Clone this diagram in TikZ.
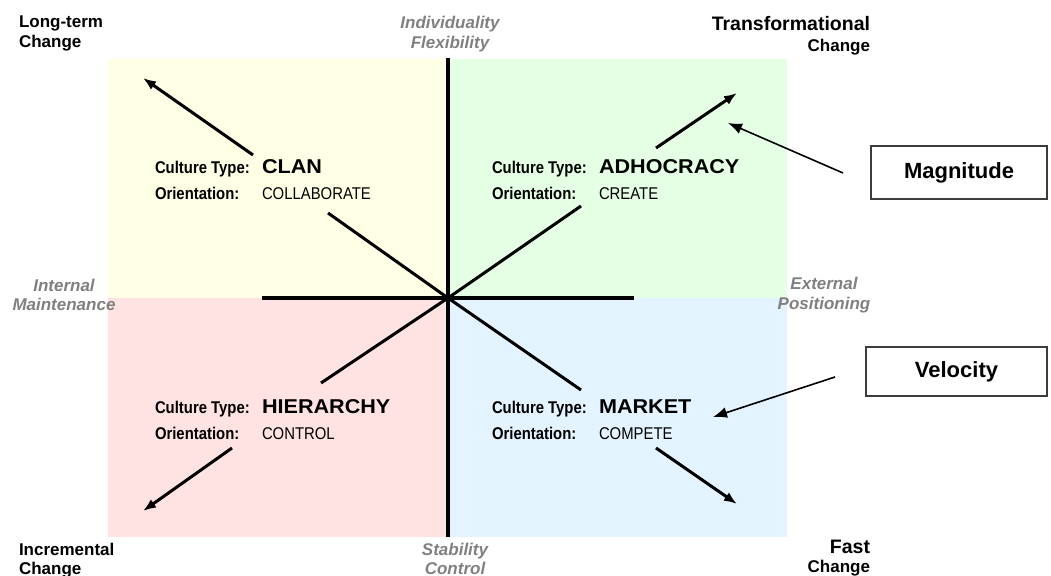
\documentclass[tikz,border=0pt]{standalone}
\usepackage{fontspec}
\setmainfont{Liberation Sans}
\newfontfamily\narrowfont[FakeStretch=0.875]{Liberation Sans}
\newfontfamily\widefont[FakeStretch=1.08]{Liberation Sans}
\usetikzlibrary{arrows.meta}
\definecolor{qyellow}{RGB}{255,255,229}
\definecolor{qgreen}{RGB}{229,255,229}
\definecolor{qpink}{RGB}{255,227,227}
\definecolor{qblue}{RGB}{227,243,255}
\definecolor{labgray}{RGB}{128,128,128}
\definecolor{boxedge}{RGB}{60,60,60}
\tikzset{
  every node/.style={inner sep=0pt, outer sep=0pt},
  cornerlab/.style={font=\fontsize{17}{20}\selectfont\bfseries, text=black},
  cornerbig/.style={font=\fontsize{19.5}{22}\selectfont\bfseries, text=black},
  axislab/.style={font=\fontsize{17}{20}\selectfont\bfseries\itshape, text=labgray, anchor=base},
  keylab/.style={font=\narrowfont\fontsize{17}{20}\selectfont\bfseries, anchor=base west},
  typelab/.style={font=\widefont\fontsize{20}{24}\selectfont\bfseries, anchor=base west},
  orientlab/.style={font=\narrowfont\fontsize{17}{20}\selectfont, anchor=base west},
  axisline/.style={line width=4.5pt},
  diagline/.style={line width=3pt},
  bigarrow/.style={line width=3pt, -{Latex[length=13pt,width=10pt]}},
  pointer/.style={line width=1.6pt, -{Latex[length=14pt,width=11pt]}},
  labelbox/.style={draw=boxedge, line width=1.8pt, font=\fontsize{22}{26}\selectfont\bfseries},
}
\begin{document}
\begin{tikzpicture}[x=1pt,y=-1pt]
\useasboundingbox (0,0) rectangle (1051,575);
% quadrant backgrounds
\fill[qyellow] (108,59) rectangle (448,298);
\fill[qgreen] (448,59) rectangle (787,298);
\fill[qpink] (108,298) rectangle (448,537);
\fill[qblue] (448,298) rectangle (787,537);

\coordinate (O) at (448,298);
\coordinate (axT) at (448,58);
\coordinate (axB) at (448,537);
\coordinate (axL) at (262,298);
\coordinate (axR) at (634,298);

% diagonal coordinates
\coordinate (clanIn) at (328,213);
\coordinate (clanA) at (253,155);
\coordinate (clanTip) at (143,78);
\coordinate (adhIn) at (581,206);
\coordinate (adhA) at (656,148);
\coordinate (adhTip) at (737,93);
\coordinate (hierIn) at (321,383);
\coordinate (hierA) at (232,448);
\coordinate (hierTip) at (143,511);
\coordinate (markIn) at (581,390);
\coordinate (markA) at (656,448);
\coordinate (markTip) at (737,504);

\draw[diagline] (O) -- (clanIn);
\draw[diagline] (O) -- (adhIn);
\draw[diagline] (O) -- (hierIn);
\draw[diagline] (O) -- (markIn);
\draw[bigarrow] (clanA) -- (clanTip);
\draw[bigarrow] (adhA) -- (adhTip);
\draw[bigarrow] (hierA) -- (hierTip);
\draw[bigarrow] (markA) -- (markTip);

\draw[axisline] (axT) -- (axB);
\draw[axisline] (axL) -- (axR);

% quadrant texts
\node[keylab] (clanK) at (155,173) {Culture Type:};
\node[typelab] (clanT) at (262,173) {CLAN};
\node[keylab] (clanO) at (155,199) {Orientation:};
\node[orientlab] (clanV) at (262,199) {COLLABORATE};

\node[keylab] (adhK) at (492,173) {Culture Type:};
\node[typelab] (adhT) at (599,173) {ADHOCRACY};
\node[keylab] (adhO) at (492,199) {Orientation:};
\node[orientlab] (adhV) at (599,199) {CREATE};

\node[keylab] (hierK) at (155,413) {Culture Type:};
\node[typelab] (hierT) at (262,413) {HIERARCHY};
\node[keylab] (hierO) at (155,439) {Orientation:};
\node[orientlab] (hierV) at (262,439) {CONTROL};

\node[keylab] (markK) at (492,413) {Culture Type:};
\node[typelab] (markT) at (599,413) {MARKET};
\node[keylab] (markO) at (492,439) {Orientation:};
\node[orientlab] (markV) at (599,439) {COMPETE};

% corner labels
\node[cornerlab, anchor=base west] (lt1) at (19,28) {Long-term};
\node[cornerlab, anchor=base west] (lt2) at (19,48) {Change};
\node[cornerbig, anchor=base east] (tr1) at (870,31) {Transformational};
\node[cornerlab, anchor=base east] (tr2) at (870,52) {Change};
\node[cornerlab, anchor=base west] (in1) at (19,555) {Incremental};
\node[cornerlab, anchor=base west] (in2) at (19,574) {Change};
\node[cornerbig, anchor=base east] (fa1) at (870,553) {Fast};
\node[cornerlab, anchor=base east] (fa2) at (870,572) {Change};

% axis labels
\node[axislab] (ax1) at (450,29) {Individuality};
\node[axislab] (ax2) at (450,49) {Flexibility};
\node[axislab] (ax3) at (64,291) {Internal};
\node[axislab] (ax4) at (64,310) {Maintenance};
\node[axislab] (ax5) at (824,289) {External};
\node[axislab] (ax6) at (824,309) {Positioning};
\node[axislab] (ax7) at (455,555) {Stability};
\node[axislab] (ax8) at (455,574) {Control};

% boxes
\node[labelbox, minimum width=176pt, minimum height=53pt] (mag) at (959,172.5) {Magnitude};
\node[labelbox, minimum width=181pt, minimum height=49pt] (vel) at (956.5,371.5) {Velocity};
\coordinate (magStart) at (843,173);
\coordinate (magTip) at (728,123);
\coordinate (velStart) at (835,377);
\coordinate (velTip) at (713,417);
\draw[pointer] (magStart) -- (magTip);
\draw[pointer] (velStart) -- (velTip);
\end{tikzpicture}
\end{document}
